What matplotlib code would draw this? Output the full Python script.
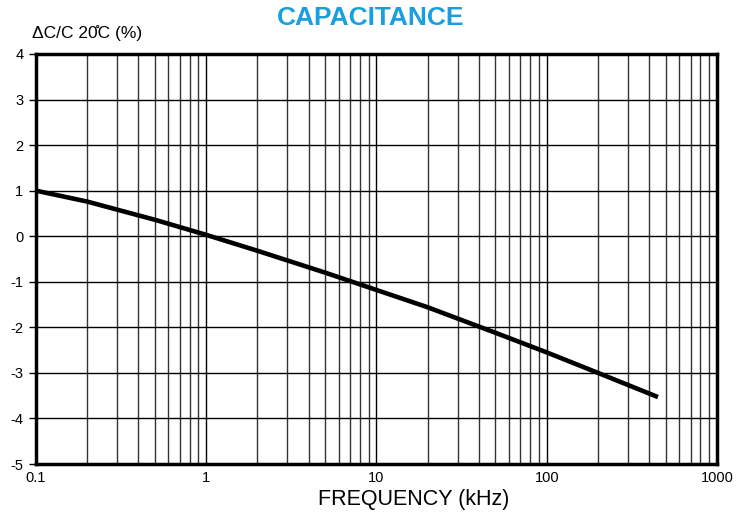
import matplotlib
matplotlib.use("Agg")
import matplotlib.pyplot as plt
import numpy as np
from matplotlib.ticker import FixedLocator, FixedFormatter, LogLocator, NullFormatter

plt.rcParams['font.family'] = ['Liberation Sans', 'DejaVu Sans']
plt.rcParams['axes.unicode_minus'] = False

# frequency in kHz and capacitance change in %
freq = [0.1, 0.2, 0.5, 1, 2, 5, 10, 20, 50, 100, 200, 450]
dcap = [1.0, 0.76, 0.36, 0.03, -0.32, -0.8, -1.18, -1.56, -2.12, -2.55, -3.0, -3.53]

xticks = [0.1, 1, 10, 100, 1000]
xtick_labels = ["0.1", "1", "10", "100", "1000"]
yticks = [-5, -4, -3, -2, -1, 0, 1, 2, 3, 4]

fig = plt.figure(figsize=(7.42, 5.18), dpi=100)
ax = fig.add_axes([0.0485, 0.1042, 0.9178, 0.7916])

ax.plot(freq, dcap, color="black", lw=3.3, solid_capstyle="butt",
        solid_joinstyle="round", zorder=3)

ax.set_xscale("log")
ax.set_xlim(0.1, 1000)
ax.set_ylim(-5, 4)
ax.xaxis.set_major_locator(FixedLocator(xticks))
ax.xaxis.set_major_formatter(FixedFormatter(xtick_labels))
ax.xaxis.set_minor_locator(LogLocator(base=10, subs=np.arange(2, 10)))
ax.xaxis.set_minor_formatter(NullFormatter())
ax.set_yticks(yticks)

ax.grid(True, which="major", axis="both", color="black", lw=1)
ax.grid(True, which="minor", axis="x", color="#333333", lw=1)

ax.tick_params(axis="x", which="both", length=0, labelsize=10.5, pad=5)
ax.tick_params(axis="y", which="major", length=5, width=1, labelsize=10.5, pad=4)

for s in ax.spines.values():
    s.set_linewidth(2.5)

fig.text(0.5, 0.965, "CAPACITANCE", ha="center", va="center",
         fontsize=19, fontweight="bold", color="#1a9fde")
fig.text(0.043, 0.937, "\u0394C/C 20\u030aC (%)", ha="left", va="center", fontsize=12.5)
fig.text(0.557, 0.035, "FREQUENCY (kHz)", ha="center", va="center", fontsize=15.5)

fig.savefig("out.png", dpi=100)
